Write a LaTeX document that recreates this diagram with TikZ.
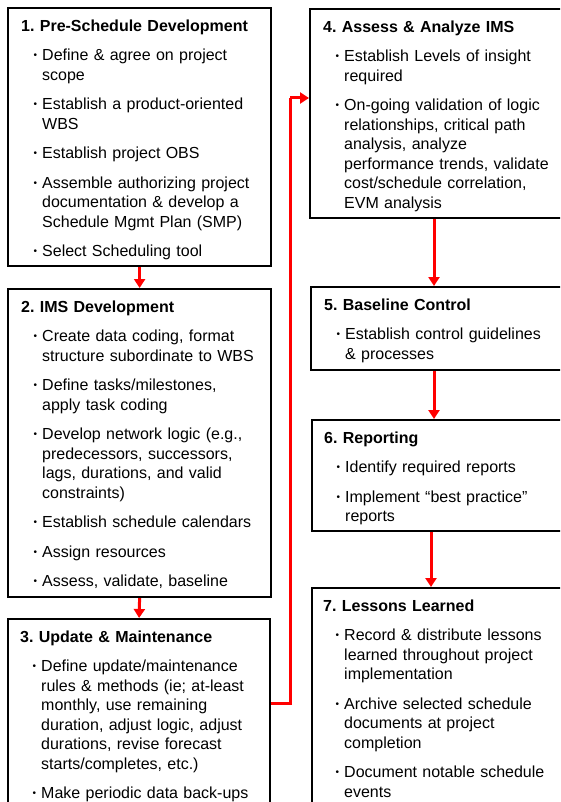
\documentclass[tikz,border=0pt]{standalone}
\usepackage{fontspec}
\setmainfont{Liberation Sans}
\usepackage{xcolor}
\usepackage{tikz}
\usetikzlibrary{arrows.meta,positioning}
\definecolor{Ink}{HTML}{000000}
\definecolor{Flow}{HTML}{FF0000}
\frenchspacing
\newcommand{\hd}[1]{{\bfseries #1\par}\vspace{-0.5pt}}
\newcommand{\itm}{\par\vspace{10pt}\noindent\hangindent=21pt\hangafter=1\hspace*{12.5pt}\makebox[8.5pt][l]{\raisebox{2pt}{\fontsize{10}{10}\selectfont\textbullet}}}

\begin{document}
\begin{tikzpicture}[x=1pt,y=-1pt,>=Latex,
  stage/.style={draw=Ink,line width=2.2pt,fill=white,anchor=north west,inner sep=0pt},
  txt/.style={inner sep=0pt,text width=250pt,font=\fontsize{16}{19.5}\selectfont\raggedright},
  flow/.style={Flow,line width=3pt,-{Triangle[width=11pt,length=9pt]}}]
  \useasboundingbox (0,0) rectangle (560,802);
  \fill[white] (0,0) rectangle (560,802);
  \clip (0,0) rectangle (560,802);
  % left column
  \node[stage,minimum width=263,minimum height=258] (s1) at (7,7) {};
  \node[stage,minimum width=263,minimum height=308] (s2) at (7,288) {};
  \node[stage,minimum width=262,minimum height=240] (s3) at (7,618) {};
  % right column
  \node[stage,minimum width=270,minimum height=209] (s4) at (309,8) {};
  \node[stage,minimum width=270,minimum height=83] (s5) at (310,286) {};
  \node[stage,minimum width=270,minimum height=111] (s6) at (311,419) {};
  \node[stage,minimum width=270,minimum height=250] (s7) at (311,587) {};

  \node[txt,below right=13pt and 14pt of s1.north west] (t1) {\hd{1. Pre-Schedule Development}
    \itm Define \& agree on project\newline scope
    \itm Establish a product-oriented\newline WBS
    \itm Establish project OBS
    \itm Assemble authorizing project\newline documentation \& develop a\newline Schedule Mgmt Plan (SMP)
    \itm Select Scheduling tool\par};
  \node[txt,below right=13pt and 14pt of s2.north west] (t2) {\hd{2. IMS Development}
    \itm Create data coding, format\newline structure subordinate to WBS
    \itm Define tasks/milestones,\newline apply task coding
    \itm Develop network logic (e.g.,\newline predecessors, successors,\newline lags, durations, and valid\newline constraints)
    \itm Establish schedule calendars
    \itm Assign resources
    \itm Assess, validate, baseline\par};
  \node[txt,below right=13pt and 13pt of s3.north west] (t3) {\hd{3. Update \& Maintenance}
    \itm Define update/maintenance\newline rules \& methods (ie; at-least\newline monthly, use remaining\newline duration, adjust logic, adjust\newline durations, revise forecast\newline starts/completes, etc.)
    \itm Make periodic data back-ups\par};
  \node[txt,below right=13pt and 14pt of s4.north west] (t4) {\hd{4. Assess \& Analyze IMS}
    \itm Establish Levels of insight\newline required
    \itm On-going validation of logic\newline relationships, critical path\newline analysis, analyze\newline performance trends, validate\newline cost/schedule correlation,\newline EVM analysis\par};
  \node[txt,below right=13pt and 14pt of s5.north west] (t5) {\hd{5. Baseline Control}
    \itm Establish control guidelines\newline \& processes\par};
  \node[txt,below right=13pt and 13pt of s6.north west] (t6) {\hd{6. Reporting}
    \itm Identify required reports
    \itm Implement ``best practice''\newline reports\par};
  \node[txt,below right=13pt and 12pt of s7.north west] (t7) {\hd{7. Lessons Learned}
    \itm Record \& distribute lessons\newline learned throughout project\newline implementation
    \itm Archive selected schedule\newline documents at project\newline completion
    \itm Document notable schedule\newline events\par};

  % connectors
  \coordinate (bendlow) at (290,703);
  \coordinate (bendhigh) at (290,98);
  \draw[flow] (s1.south) -- (s2.north);
  \draw[flow] (s2.south) -- (s3.north);
  \draw[flow,-] (s3.east |- bendlow) -- (bendlow) -- (bendhigh);
  \draw[flow] (bendhigh) -- (s4.west |- bendhigh);
  \draw[flow] ([xshift=125pt]s4.south west) -- ([xshift=125pt]s4.south west |- s5.north);
  \draw[flow] ([xshift=124pt]s5.south west) -- ([xshift=124pt]s5.south west |- s6.north);
  \draw[flow] ([xshift=120pt]s6.south west) -- ([xshift=120pt]s6.south west |- s7.north);
\end{tikzpicture}
\end{document}
